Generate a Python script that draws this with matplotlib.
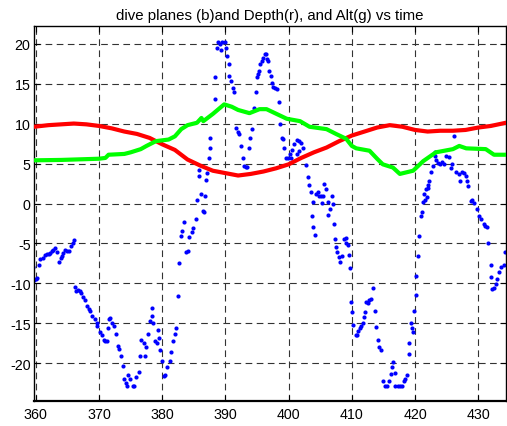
import matplotlib
matplotlib.use("Agg")
import matplotlib.pyplot as plt

# ---- data ----
depth_t = [359.7, 362, 364, 366, 368, 370, 372, 374, 376, 378, 380, 382, 384, 386, 388, 390,
           392, 394, 396, 398, 400, 402, 404, 406, 408, 410, 412, 414, 416, 418, 420, 422,
           424, 426, 428, 430, 432, 434.4]
depth = [9.6, 9.8, 9.9, 10.0, 9.9, 9.7, 9.4, 9.0, 8.7, 8.2, 7.4, 6.7, 5.5, 4.75, 4.1, 3.8,
         3.5, 3.7, 4.0, 4.4, 4.9, 5.7, 6.4, 7.0, 7.8, 8.5, 9.0, 9.5, 9.8, 9.6, 9.2, 9.0,
         9.1, 9.1, 9.2, 9.5, 9.7, 10.1]

alt_t = [359.7, 364, 368, 370, 371, 371.5, 374, 375, 376.6, 377.5, 379, 381, 382, 383, 384,
         385.5, 386.2, 386.5, 388, 389.8, 391, 392, 393.8, 395.4, 396.5, 398.1, 399.7, 401.8,
         403.3, 406, 407.5, 409.1, 410, 410.7, 412.8, 414, 414.9, 416.5, 417.6, 419.7, 421.3,
         423.3, 426, 427, 428.1, 431.2, 432.5, 434.4]
alt = [5.4, 5.45, 5.55, 5.6, 5.7, 6.1, 6.2, 6.4, 6.8, 7.2, 7.8, 8.0, 8.4, 9.3, 9.8,
       10.1, 10.7, 10.3, 11.2, 12.4, 12.1, 11.7, 11.3, 11.8, 11.8, 11.2, 10.6, 10.3,
       9.6, 9.3, 8.7, 8.1, 7.2, 6.9, 6.6, 5.6, 4.9, 4.5, 3.7, 4.1, 5.3,
       6.4, 6.8, 7.2, 6.9, 6.8, 6.1, 6.1]

planes_t = [
    359.6, 359.7, 360.0, 360.2, 360.5, 360.7, 361.1, 361.4, 361.7, 362.0, 362.2, 362.5, 362.7,
    363.0, 363.3, 363.7, 363.9, 364.1, 364.3, 364.6, 364.9, 365.2, 365.5, 365.8, 366.0,
    366.2, 366.4, 366.7, 367.0, 367.2, 367.5, 367.7, 368.1, 368.4, 368.6, 368.9, 369.3, 369.6,
    369.7, 370.1, 370.4, 370.7, 371.0, 371.2, 371.4, 371.6, 371.8, 372.0, 372.4, 372.6,
    373.0, 373.2, 373.5, 373.8, 373.9, 374.3, 374.4, 374.6, 374.9, 375.3, 375.6, 375.9,
    376.3, 376.4, 376.7, 377.1, 377.2, 377.4, 377.7, 378.0, 378.3, 378.4, 378.6, 378.8,
    379.1, 379.3, 379.5, 379.7, 380.0, 380.3, 380.5, 380.8, 381.2, 381.4, 381.7, 382.0,
    382.1, 382.5, 382.7, 383.0, 383.2, 383.4, 383.7, 384.0, 384.2, 384.7, 384.9, 385.3,
    385.5, 385.8, 385.8, 386.1, 386.4, 386.6, 386.7, 386.9, 387.1, 387.4, 387.5, 387.6,
    388.3, 388.4, 388.7, 388.8, 389.1, 389.3, 389.5, 389.9, 390.1, 390.3, 390.5, 390.6,
    390.9, 391.2, 391.3, 391.7, 392.0, 392.2, 392.5, 392.8, 393.0, 393.2, 393.4, 393.7,
    393.9, 394.2, 394.5, 394.8, 395.0, 395.1, 395.3, 395.5, 395.8, 396.0, 396.2, 396.4,
    396.6, 396.7, 396.9, 397.2, 397.4, 397.6, 397.9, 398.1, 398.4, 398.7, 398.9, 399.1,
    399.2, 399.6, 399.9, 400.2, 400.4, 400.5, 400.9, 401.3, 401.4, 401.7, 401.7, 402.0,
    402.3, 402.7, 403.0, 403.3, 403.6, 403.8, 403.7, 403.9, 404.2, 404.4, 404.7, 404.8,
    405.1, 405.3, 405.4, 405.6, 405.9, 406.2, 406.5, 406.3, 406.8, 407.0, 407.1, 407.3,
    407.5, 407.7, 407.9, 408.1, 408.4, 408.7, 409.0, 409.1, 409.4, 409.5, 409.7, 409.9,
    410.0, 410.2, 410.6, 410.8, 410.9, 411.3, 411.4, 411.7, 411.9, 412.1, 412.3, 412.6,
    412.7, 413.0, 413.3, 413.7, 413.9, 414.1, 414.3, 414.6, 414.9, 415.2, 415.6, 415.9,
    416.2, 416.4, 416.5, 416.8, 416.9, 417.3, 417.7, 418.0, 418.2, 418.4, 418.7, 419.0,
    419.1, 419.3, 419.5, 419.7, 419.9, 420.1, 420.2, 420.5, 420.7, 420.9, 421.1, 421.3,
    421.6, 421.9, 422.1, 421.4, 421.7, 422.0, 422.2, 422.5, 422.8, 423.1, 423.2, 423.4,
    423.6, 424.0, 424.3, 424.6, 424.9, 425.3, 425.7, 425.9, 426.2, 426.5, 427.0, 427.1,
    427.5, 427.8, 428.0, 428.3, 428.4, 428.8, 429.0, 429.3, 429.8, 430.1, 430.4, 430.9,
    431.1, 431.4, 431.6, 432.0, 432.1, 432.2, 432.5, 432.8, 433.0, 433.3, 433.6, 434.1,
    434.3]
planes = [
    -7.9, -9.6, -9.4, -9.3, -7.7, -7.0, -6.8, -6.5, -6.3, -6.3, -6.2, -6.0, -5.8,
    -5.6, -6.1, -7.3, -6.8, -6.6, -6.2, -5.8, -6.0, -5.9, -5.3, -4.9, -4.6,
    -10.5, -11.0, -10.8, -10.9, -11.2, -11.75, -12.1, -12.8, -13.2, -13.5, -14.1, -14.5, -14.9,
    -15.3, -16.1, -16.5, -17.05, -17.2, -17.2, -15.6, -14.4, -14.3, -14.9, -15.3, -16.3,
    -17.8, -18.2, -19.05, -20.3, -21.9, -22.5, -22.8, -21.5, -22.0, -22.8, -22.8, -21.75,
    -21.1, -19.05, -17.05, -17.4, -19.05, -17.9, -16.3, -14.7, -14.05, -13.05, -15.0, -17.2,
    -17.4, -15.8, -16.8, -18.3, -19.7, -21.55, -21.4, -20.4, -19.7, -18.6, -17.2, -16.3,
    -15.6, -11.6, -7.5, -4.1, -3.4, -2.3, -6.1, -5.9, -4.25, -3.6, -3.1, -2.0,
    0.5, 4.2, 3.45, 1.15, -0.9, -1.1, 0.95, 2.95, 3.8, 5.75, 6.9, 8.25,
    13.1, 15.8, 19.4, 20.2, 20.0, 19.2, 20.2, 20.2, 19.4, 18.5, 17.5, 16.0,
    15.3, 14.5, 13.9, 9.5, 8.9, 8.7, 7.2, 5.75, 4.7, 4.6, 4.6, 6.9,
    8.25, 9.3, 12.0, 14.0, 15.8, 16.25, 16.6, 17.4, 17.8, 18.25, 18.7, 18.7,
    18.1, 17.8, 16.6, 15.95, 15.1, 14.6, 14.5, 14.3, 12.7, 10.0, 8.25, 8.1,
    7.0, 5.75, 5.75, 6.2, 5.75, 6.7, 7.4, 8.0, 6.2, 7.8, 6.6, 7.6,
    7.0, 4.8, 3.3, 2.3, 1.4, 0.2, -1.6, -2.9, -4.0, 1.15, 1.4, 1.0,
    0.9, 0.1, 0.9, 2.5, 1.8, 0.2, -0.7, -1.5, 0.9, -0.05, -2.6, -4.4,
    -5.4, -6.05, -6.75, -7.3, -6.6, -4.5, -4.3, -4.9, -5.2, -6.5, -8.1, -12.3,
    -13.6, -15.2, -16.5, -16.4, -15.9, -15.6, -15.3, -15.0, -14.25, -13.55, -12.3, -12.4,
    -12.1, -11.9, -10.6, -13.4, -15.4, -17.05, -18.0, -18.3, -22.2, -22.8, -22.8, -22.2,
    -21.3, -20.4, -19.8, -21.2, -22.8, -22.8, -22.8, -22.8, -22.2, -21.9, -21.5, -18.8,
    -17.4, -15.0, -15.6, -16.05, -13.4, -11.5, -9.05, -6.6, -4.05, -1.6, -1.1, 0.2,
    0.5, 0.8, 1.9, 1.15, 1.8, 2.3, 2.8, 3.9, 4.7, 5.95, 6.5, 5.5,
    5.1, 5.0, 5.2, 5.0, 5.95, 5.8, 4.5, 4.9, 8.5, 3.9, 3.65, 2.8,
    3.9, 3.8, 3.5, 2.8, 2.2, 0.3, 0.4, 0.1, -0.7, -1.55, -1.9, -2.6,
    -2.8, -3.0, -5.0, -7.7, -9.2, -10.7, -10.6, -10.1, -9.5, -8.6, -8.0, -7.7,
    -6.1]

x_ticks = [360, 370, 380, 390, 400, 410, 420, 430]
y_ticks = [-20, -15, -10, -5, 0, 5, 10, 15, 20]
title = "dive planes (b)and Depth(r), and Alt(g) vs time"

plt.rcParams['font.family'] = ['Liberation Sans', 'DejaVu Sans']
plt.rcParams['axes.unicode_minus'] = False

fig = plt.figure(figsize=(5.07, 4.27), dpi=100)
ax = fig.add_axes([34 / 507, 25 / 427, (506 - 34) / 507, 375 / 427])

ax.plot(planes_t, planes, linestyle='none', marker='o', markersize=3.0,
        markeredgewidth=0, color=(0, 0, 1), zorder=2)
ax.plot(depth_t, depth, color=(1, 0, 0), linewidth=3.0, zorder=3)
ax.plot(alt_t, alt, color=(0, 1, 0), linewidth=3.0, zorder=3)

ax.set_xlim(359.7, 434.4)
ax.set_ylim(-24.7, 22.2)
ax.set_xticks(x_ticks)
ax.set_yticks(y_ticks)
ax.tick_params(direction='in', length=4, width=0.8, top=True, right=True,
               labelsize=10.3, colors='black')
ax.tick_params(axis='x', pad=4)
ax.tick_params(axis='y', pad=2.5)
ax.grid(True, color='#333333', linestyle=(0, (6, 4)), linewidth=0.8)
ax.set_axisbelow(True)
for s in ax.spines.values():
    s.set_linewidth(1.0)
    s.set_color('black')
ax.spines['bottom'].set_linewidth(1.6)
ax.set_title(title, fontsize=10.8, pad=5)

fig.savefig("out.png", dpi=100)
